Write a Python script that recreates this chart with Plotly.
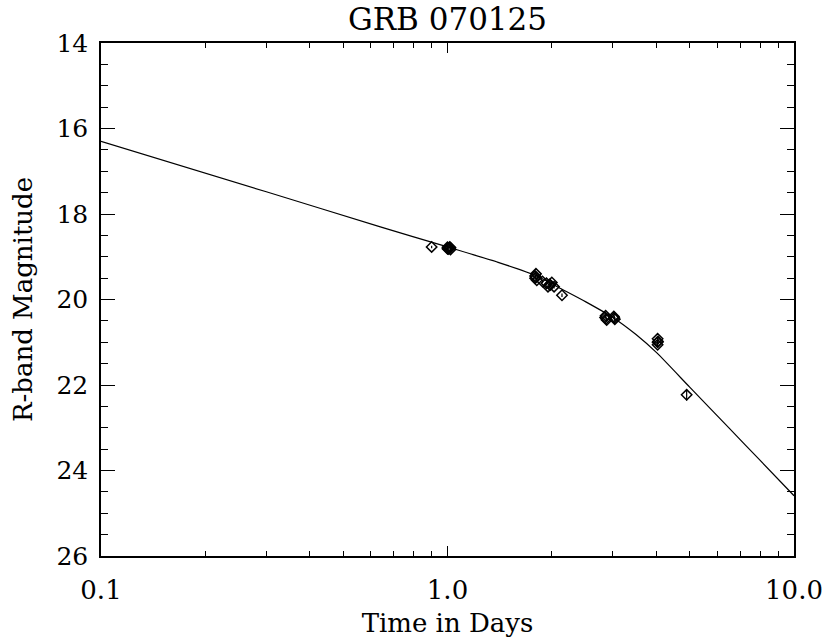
import plotly.graph_objects as go

# Fitted model curve
curve_t = [0.1, 0.3, 0.64, 1.0, 1.4, 1.81, 2.14, 2.5, 3.0, 3.5, 4.02, 5.0, 6.5, 8.0, 10.0]
curve_mag = [16.30, 17.48, 18.30, 18.77, 19.13, 19.45, 19.76, 20.05, 20.42, 20.82, 21.25, 22.05, 23.01, 23.77, 24.59]

# Observations
obs_t = [0.90,
         1.00, 1.01, 1.02, 1.005, 1.015, 1.00, 1.02,
         1.79, 1.80, 1.81, 1.80, 1.79,
         1.88, 1.93, 1.97, 2.00, 2.03, 1.95, 1.98,
         2.14,
         2.85, 2.88, 2.86, 2.87, 3.02, 3.04, 3.03,
         4.04, 4.04, 4.04, 4.05,
         4.90]
obs_mag = [18.77,
           18.78, 18.80, 18.83, 18.82, 18.77, 18.81, 18.79,
           19.45, 19.40, 19.55, 19.48, 19.50,
           19.58, 19.62, 19.65, 19.60, 19.70, 19.70, 19.66,
           19.90,
           20.42, 20.48, 20.38, 20.45, 20.40, 20.46, 20.43,
           20.92, 21.00, 21.06, 20.98,
           22.23]
obs_err = [0.03,
           0.03, 0.03, 0.03, 0.03, 0.03, 0.03, 0.03,
           0.04, 0.04, 0.04, 0.04, 0.04,
           0.04, 0.04, 0.04, 0.04, 0.04, 0.04, 0.04,
           0.04,
           0.05, 0.05, 0.05, 0.05, 0.05, 0.05, 0.05,
           0.06, 0.06, 0.06, 0.06,
           0.13]

x_tickvals = [0.1, 1.0, 10.0]
x_ticktext = ["0.1", "1.0", "10.0"]
x_minor = [0.2, 0.3, 0.4, 0.5, 0.6, 0.7, 0.8, 0.9, 2, 3, 4, 5, 6, 7, 8, 9]
y_tickvals = [14, 16, 18, 20, 22, 24, 26]

FONT = "DejaVu Serif"

fig = go.Figure()
fig.add_trace(go.Scatter(
    x=curve_t, y=curve_mag, mode="lines",
    line=dict(color="black", width=1.2, shape="spline", smoothing=0.6),
    hoverinfo="skip"))
fig.add_trace(go.Scatter(
    x=obs_t, y=obs_mag, mode="markers",
    marker=dict(symbol="diamond-open", size=8, color="black", line=dict(width=1.5, color="black")),
    error_y=dict(type="data", array=obs_err, color="black", thickness=1.2, width=0)))

fig.update_layout(
    width=826, height=638,
    margin=dict(l=101, r=32, t=43, b=82, autoexpand=False),
    paper_bgcolor="white", plot_bgcolor="white",
    showlegend=False,
    font=dict(family=FONT, color="black"),
    title=dict(text="GRB 070125", x=0.5, xref="paper", xanchor="center",
               y=1 - 19 / 638, yref="container", yanchor="middle",
               font=dict(family=FONT, size=31, color="black")),
)
fig.update_xaxes(
    type="log", range=[-1, 1], automargin=False,
    tickvals=x_tickvals, ticktext=x_ticktext,
    ticks="inside", ticklen=10, tickwidth=1.2, tickcolor="black",
    showline=True, linecolor="black", linewidth=1.5, mirror="allticks",
    showgrid=False, zeroline=False,
    tickfont=dict(family=FONT, size=26, color="black"),
    ticklabelstandoff=10,
    minor=dict(tickvals=x_minor, ticks="inside", ticklen=5, tickwidth=1, tickcolor="black", showgrid=False),
    title=dict(text="Time in Days", font=dict(family=FONT, size=26, color="black"), standoff=10),
)
fig.update_yaxes(
    range=[26, 14], automargin=False,
    tickvals=y_tickvals,
    ticks="inside", ticklen=14, tickwidth=1.2, tickcolor="black",
    showline=True, linecolor="black", linewidth=1.5, mirror="allticks",
    showgrid=False, zeroline=False,
    tickfont=dict(family=FONT, size=25, color="black"),
    ticklabelstandoff=6,
    minor=dict(dtick=0.5, ticks="inside", ticklen=7, tickwidth=1, tickcolor="black", showgrid=False),
    title=dict(text="R-band Magnitude", font=dict(family=FONT, size=26, color="black"), standoff=16),
)

fig.write_html("out.html")
